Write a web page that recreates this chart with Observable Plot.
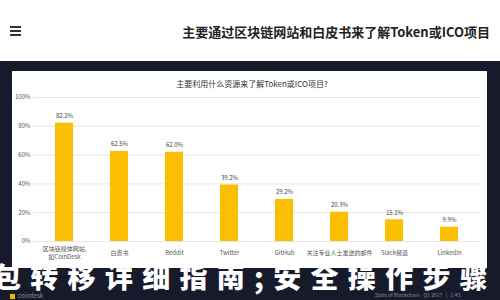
<!DOCTYPE html>
<html><head><meta charset="utf-8">
<script src="https://cdn.jsdelivr.net/npm/d3@7"></script>
<script src="https://cdn.jsdelivr.net/npm/@observablehq/plot@0.6"></script>
<style>
html,body{margin:0;padding:0;width:500px;height:300px;overflow:hidden;background:#fff;font-family:"Noto Sans CJK SC","Noto Sans",sans-serif;}
#page{position:relative;width:500px;height:300px;overflow:hidden;}
#top{position:absolute;left:0;top:0;width:500px;height:61px;background:#fff;}
#burger{position:absolute;left:10px;top:26px;width:11px;}
#burger div{height:2px;background:#333;margin-bottom:2px;}
#head{position:absolute;right:10px;top:22px;font-size:13px;font-weight:700;color:#222;white-space:nowrap;}
#dark{position:absolute;left:0;top:61px;width:500px;height:239px;background:#171a2b;}
#card{position:absolute;left:12px;top:71px;width:475px;height:197px;background:#fff;}
#ctitle{position:absolute;left:0;top:7px;width:480px;text-align:center;font-size:8px;color:#333;white-space:nowrap;}
#chart{position:absolute;left:0;top:17px;}
#overlay{position:absolute;left:-7px;top:263px;font-size:28px;font-weight:900;color:#fff;letter-spacing:9.3px;white-space:nowrap;line-height:26px;height:26px;}
#logo{position:absolute;left:10px;top:292px;font-size:6px;line-height:7px;color:#8a8d99;white-space:nowrap;}
#logo span{display:inline-block;width:5px;height:5px;background:#f2b705;margin-right:3px;vertical-align:middle;}
#foot{position:absolute;left:375px;top:292px;font-size:5px;line-height:6px;color:#8a8d99;white-space:nowrap;}
</style></head>
<body><div id="page">
<div id="top"><div id="burger"><div></div><div></div><div></div></div>
<div id="head">主要通过区块链网站和白皮书来了解Token或ICO项目</div></div>
<div id="dark"></div>
<div id="card"><div id="ctitle">主要利用什么资源来了解Token或ICO项目?</div><div id="chart"></div></div>
<div id="overlay">包转移详细指南;安全操作步骤</div>
<div id="logo"><span></span>coindesk</div>
<div id="foot">State of Blockchain - Q1 2017 &nbsp;&nbsp;|&nbsp;&nbsp; 1/43</div>
</div>
<script>
const categories = ["区块链媒体网站,\n如CoinDesk","白皮书","Reddit","Twitter","GitHub","关注专业人士发送的邮件","Slack频道","LinkedIn"];
const values = [82.2, 62.5, 62.0, 39.2, 29.2, 20.3, 15.1, 9.9];
const yTicks = [0, 20, 40, 60, 80, 100];
const data = categories.map((c, i) => ({c, v: values[i]}));

const chart = Plot.plot({
  width: 475, height: 180,
  marginLeft: 21, marginRight: 7, marginTop: 9, marginBottom: 27,
  style: {fontFamily: '"Noto Sans CJK SC","Noto Sans",sans-serif', fontSize: "6px", color: "#555", background: "transparent"},
  x: {domain: categories, paddingInner: 0.68, paddingOuter: 0.38, axis: null},
  y: {domain: [0, 100], ticks: yTicks, tickFormat: d => d + "%", tickSize: 0, tickPadding: 3, label: null},
  marks: [
    Plot.gridY(yTicks, {stroke: "#e6e6e6", strokeOpacity: 1}),
    Plot.barY(data, {x: "c", y: "v", fill: "#fbbe00"}),
    Plot.text(data, {x: "c", y: "v", text: d => d.v.toFixed(1) + "%", dy: -7, fontSize: 6, fill: "#444"}),
    Plot.text(data, {x: "c", text: "c", frameAnchor: "bottom", dy: 11, lineAnchor: "middle", fontSize: 6, fill: "#555", lineHeight: 1.3})
  ]
});
document.getElementById("chart").appendChild(chart);
</script>
</body></html>
